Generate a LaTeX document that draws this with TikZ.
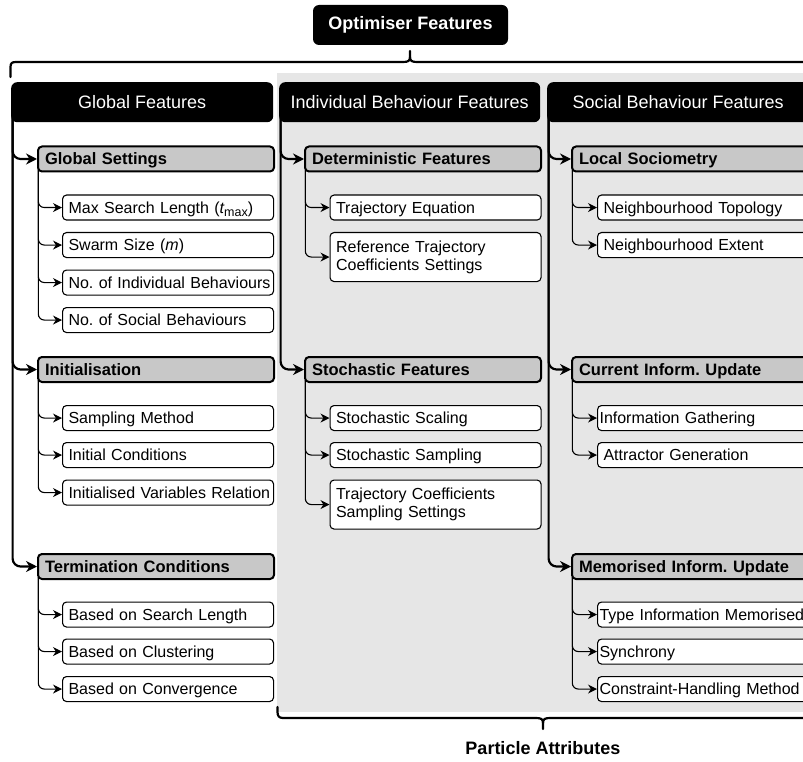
\documentclass[tikz,border=0pt]{standalone}
\usepackage{fontspec}
\setmainfont{Liberation Sans}
\usetikzlibrary{arrows.meta,calc}
\definecolor{bggrey}{HTML}{E6E6E6}
\definecolor{catgrey}{HTML}{C8C8C8}
\frenchspacing
\tikzset{
  topbox/.style={fill=black, rounded corners=6pt, minimum width=195pt, minimum height=40pt,
    inner sep=0pt, text=white, font={\fontsize{18}{21}\selectfont\bfseries}},
  hdr/.style={fill=black, rounded corners=6pt, minimum width=#1, minimum height=40pt,
    anchor=north west, inner sep=0pt, text=white, font={\fontsize{18}{21}\selectfont}},
  cat/.style={draw=black, line width=2pt, fill=catgrey, rounded corners=4pt, anchor=north west,
    text width=222pt, inner xsep=7pt, inner ysep=0pt, minimum height=25pt, align=left,
    text height=12pt, text depth=0.5pt, font={\fontsize{16.5}{19}\selectfont\bfseries\frenchspacing}},
  subbase/.style={draw=black, line width=1.1pt, fill=white, rounded corners=4pt, anchor=north west,
    text width=199pt, inner xsep=6pt, inner ysep=0pt, minimum height=25pt, align=left,
    font={\fontsize{16}{18}\selectfont\frenchspacing}},
  sub/.style={subbase, text height=12pt, text depth=0.5pt},
  tightsub/.style={sub, text width=207pt, inner xsep=2pt},
  twoline/.style={subbase, minimum height=49pt},
  trunkarr/.style={line width=2.2pt, -{Stealth[length=11pt,width=11pt]}, rounded corners=8pt},
  subarr/.style={line width=1.1pt, -{Stealth[length=9pt,width=9pt]}, rounded corners=6pt},
  bracestyle/.style={line width=2.2pt, line cap=round, line join=round},
}
\begin{document}
\begin{tikzpicture}[x=1pt,y=-1pt]
\path[use as bounding box] (0,0) rectangle (803,762);
\clip (0,0) rectangle (803,762);
\fill[white] (0,0) rectangle (803,762);
% grey background for particle attributes
\fill[bggrey] (277,73) rectangle (820,712);

% top node
\node[topbox] (opt) at (410.5,25) {Optimiser Features};

% top brace
\draw[bracestyle] (10.5,77) -- (10.5,67) .. controls (10.5,63) and (12,62) .. (16,62)
  -- (403,62) .. controls (408,62) and (410,61) .. (410,57) -- (410,51);
\draw[bracestyle] (410,57) .. controls (410,61) and (412,62) .. (417,62) -- (830,62);

% headers
\node[hdr=262pt] (h1) at (11,82) {Global Features};
\node[hdr=261pt] (h2) at (279,82) {Individual Behaviour Features};
\node[hdr=262pt] (h3) at (547,82) {Social Behaviour Features};

% column 1
\node[cat] (c11) at (37,145.5) {Global Settings};
\node[cat] (c12) at (37,356) {Initialisation};
\node[cat] (c13) at (37,553) {Termination Conditions};
\node[sub] (s11) at (62,194.5) {\mbox{Max Search Length ({\itshape t}\raisebox{-3.5pt}{\fontsize{12.5}{12.5}\selectfont max})}};
\node[sub] (s12) at (62,232) {\mbox{Swarm Size ({\itshape m})}};
\node[sub] (s13) at (62,269.5) {\mbox{No. of Individual Behaviours}};
\node[sub] (s14) at (62,307) {\mbox{No. of Social Behaviours}};
\node[sub] (s21) at (62,405) {\mbox{Sampling Method}};
\node[sub] (s22) at (62,442) {\mbox{Initial Conditions}};
\node[sub] (s23) at (62,479.5) {\mbox{Initialised Variables Relation}};
\node[sub] (s31) at (62,601.5) {\mbox{Based on Search Length}};
\node[sub] (s32) at (62,638.5) {\mbox{Based on Clustering}};
\node[sub] (s33) at (62,676) {\mbox{Based on Convergence}};

% column 2
\node[cat] (c21) at (304,145.5) {Deterministic Features};
\node[cat] (c22) at (304,356) {Stochastic Features};
\node[sub] (t11) at (329.5,194.5) {\mbox{Trajectory Equation}};
\node[twoline] (t12) at (329.5,232) {Reference Trajectory\\Coefficients Settings};
\node[sub] (t21) at (329.5,405) {\mbox{Stochastic Scaling}};
\node[sub] (t22) at (329.5,442) {\mbox{Stochastic Sampling}};
\node[twoline] (t23) at (329.5,479.5) {Trajectory Coefficients\\Sampling Settings};

% column 3
\node[cat] (c31) at (571,145.5) {Local Sociometry};
\node[cat] (c32) at (571,356) {Current Inform. Update};
\node[cat] (c33) at (571,553) {Memorised Inform. Update};
\node[sub] (u11) at (597,194.5) {\mbox{Neighbourhood Topology}};
\node[sub] (u12) at (597,232) {\mbox{Neighbourhood Extent}};
\node[tightsub] (u21) at (597,405) {\mbox{Information Gathering}};
\node[sub] (u22) at (597,442) {\mbox{Attractor Generation}};
\node[tightsub] (u31) at (597,601.5) {\mbox{Type Information Memorised}};
\node[tightsub] (u32) at (597,638.5) {\mbox{Synchrony}};
\node[tightsub] (u33) at (597,676) {\mbox{Constraint-Handling Method}};

% trunk connectors
\foreach \h/\c in {h1/c11,h1/c12,h1/c13,h2/c21,h2/c22,h3/c31,h3/c32,h3/c33}
  \draw[trunkarr] ($(\h.south west)+(1.6,-8)$) |- (\c.west);

% sub connectors
\foreach \c/\s in {c11/s11,c11/s12,c11/s13,c11/s14,c12/s21,c12/s22,c12/s23,c13/s31,c13/s32,c13/s33,
                   c21/t11,c21/t12,c22/t21,c22/t22,c22/t23,
                   c31/u11,c31/u12,c32/u21,c32/u22,c33/u31,c33/u32,c33/u33}
  \draw[subarr] ($(\c.south west)+(1.3,-3)$) |- (\s.west);

% bottom brace
\draw[bracestyle] (277.5,707) -- (277.5,712) .. controls (277.5,716) and (279,718) .. (283,718)
  -- (536,718) .. controls (541,718) and (543,719) .. (543,723) -- (543,729);
\draw[bracestyle] (543,723) .. controls (543,719) and (545,718) .. (550,718) -- (830,718);

\node[font={\fontsize{18}{21}\selectfont\bfseries}] (pa) at (543,748) {Particle Attributes};
\end{tikzpicture}
\end{document}
